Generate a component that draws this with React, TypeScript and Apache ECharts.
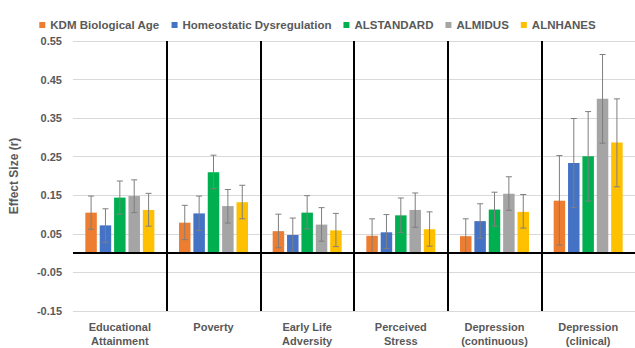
import React, { useEffect, useRef } from "react";
import * as echarts from "echarts";

const categories = [
  "Educational\nAttainment",
  "Poverty",
  "Early Life\nAdversity",
  "Perceived\nStress",
  "Depression\n(continuous)",
  "Depression\n(clinical)",
];

const seriesNames = [
  "KDM Biological Age",
  "Homeostatic Dysregulation",
  "ALSTANDARD",
  "ALMIDUS",
  "ALNHANES",
];

const seriesColors = ["#ED7D31", "#4472C4", "#00B050", "#A5A5A5", "#FFC000"];

// Effect sizes per measure (one entry per category)
const kdmValues = [0.105, 0.079, 0.057, 0.045, 0.044, 0.136];
const hdValues = [0.072, 0.103, 0.047, 0.054, 0.083, 0.234];
const alStandardValues = [0.144, 0.21, 0.105, 0.098, 0.113, 0.251];
const alMidusValues = [0.148, 0.122, 0.074, 0.112, 0.154, 0.4];
const alNhanesValues = [0.112, 0.132, 0.059, 0.062, 0.107, 0.287];

// Confidence interval bounds
const kdmLower = [0.062, 0.035, 0.014, 0.001, 0.0, 0.021];
const kdmUpper = [0.148, 0.124, 0.101, 0.089, 0.089, 0.253];
const hdLower = [0.028, 0.059, 0.003, 0.012, 0.039, 0.118];
const hdUpper = [0.115, 0.148, 0.091, 0.1, 0.128, 0.349];
const alStandardLower = [0.101, 0.167, 0.063, 0.054, 0.07, 0.135];
const alStandardUpper = [0.187, 0.254, 0.149, 0.143, 0.158, 0.367];
const alMidusLower = [0.105, 0.078, 0.031, 0.067, 0.111, 0.285];
const alMidusUpper = [0.19, 0.165, 0.118, 0.156, 0.198, 0.515];
const alNhanesLower = [0.07, 0.089, 0.017, 0.018, 0.065, 0.172];
const alNhanesUpper = [0.155, 0.176, 0.103, 0.107, 0.152, 0.4];

const yTickMin = -0.15;
const yTickMax = 0.55;
const yTickStep = 0.1;

const BAR_WIDTH = 11.5;
const BAR_GAP_RATIO = 0.25;
const TEXT_COLOR = "#595959";
const FONT = "'Liberation Sans', Arial, sans-serif";

export default function App() {
  const ref = useRef<HTMLDivElement>(null);

  useEffect(() => {
    if (!ref.current) return;
    const chart = echarts.init(ref.current, null, { renderer: "svg" });

    const values = [kdmValues, hdValues, alStandardValues, alMidusValues, alNhanesValues];
    const lowers = [kdmLower, hdLower, alStandardLower, alMidusLower, alNhanesLower];
    const uppers = [kdmUpper, hdUpper, alStandardUpper, alMidusUpper, alNhanesUpper];
    const n = seriesNames.length;
    const pitch = BAR_WIDTH * (1 + BAR_GAP_RATIO);

    const barSeries = seriesNames.map((name, i) => ({
      name,
      type: "bar",
      data: values[i],
      barWidth: BAR_WIDTH,
      barGap: `${BAR_GAP_RATIO * 100}%`,
      itemStyle: { color: seriesColors[i] },
      z: 2,
      ...(i === 0
        ? {
            markLine: {
              silent: true,
              symbol: ["none", "none"],
              label: { show: false },
              lineStyle: { color: "#000", width: 2, type: "solid" },
              data: [{ yAxis: 0 }],
              z: 5,
            },
          }
        : {}),
    }));

    const errorSeries = seriesNames.map((name, i) => {
      const offset = (i - (n - 1) / 2) * pitch;
      return {
        type: "custom",
        name: `${name} CI`,
        data: categories.map((_, c) => [c, lowers[i][c], uppers[i][c]]),
        encode: { x: 0, y: [1, 2] },
        z: 4,
        renderItem: (params: any, api: any) => {
          const c = api.value(0);
          const lo = api.coord([c, api.value(1)]);
          const hi = api.coord([c, api.value(2)]);
          const x = lo[0] + offset;
          const cap = 3;
          const style = { stroke: "#7F7F7F", lineWidth: 1 };
          return {
            type: "group",
            children: [
              { type: "line", shape: { x1: x, y1: lo[1], x2: x, y2: hi[1] }, style },
              { type: "line", shape: { x1: x - cap, y1: hi[1], x2: x + cap, y2: hi[1] }, style },
              { type: "line", shape: { x1: x - cap, y1: lo[1], x2: x + cap, y2: lo[1] }, style },
            ],
          };
        },
      };
    });

    chart.setOption({
      animation: false,
      backgroundColor: "#fff",
      textStyle: { fontFamily: FONT },
      legend: {
        data: seriesNames,
        top: 14,
        left: "center",
        icon: "rect",
        itemWidth: 6,
        itemHeight: 6,
        itemGap: 12,
        textStyle: { color: TEXT_COLOR, fontSize: 11.5, fontWeight: "bold", fontFamily: FONT },
      },
      grid: { left: 68, right: 0, top: 41, bottom: 34 },
      xAxis: {
        type: "category",
        data: categories,
        axisLine: { show: false },
        axisTick: { show: false },
        axisLabel: {
          color: TEXT_COLOR,
          fontSize: 11,
          fontWeight: "bold",
          fontFamily: FONT,
          margin: 9,
          lineHeight: 14,
          interval: 0,
        },
        splitLine: {
          show: true,
          showMinLine: false,
          showMaxLine: false,
          lineStyle: { color: "#000", width: 2 },
        },
      },
      yAxis: {
        type: "value",
        min: yTickMin,
        max: yTickMax,
        interval: yTickStep,
        name: "Effect Size (r)",
        nameLocation: "middle",
        nameGap: 53,
        nameTextStyle: { color: TEXT_COLOR, fontSize: 12, fontWeight: "bold", fontFamily: FONT },
        axisLine: { show: false },
        axisTick: { show: false },
        axisLabel: {
          color: TEXT_COLOR,
          fontSize: 11,
          fontWeight: "bold",
          fontFamily: FONT,
          margin: 11,
          formatter: (v: number) => v.toFixed(2),
        },
        splitLine: { lineStyle: { color: "#D9D9D9", width: 1 } },
      },
      series: [...barSeries, ...errorSeries],
    });

    return () => chart.dispose();
  }, []);

  return (
    <div
      ref={ref}
      style={{ position: "fixed", left: 0, top: 0, width: 635, height: 348 }}
    />
  );
}
